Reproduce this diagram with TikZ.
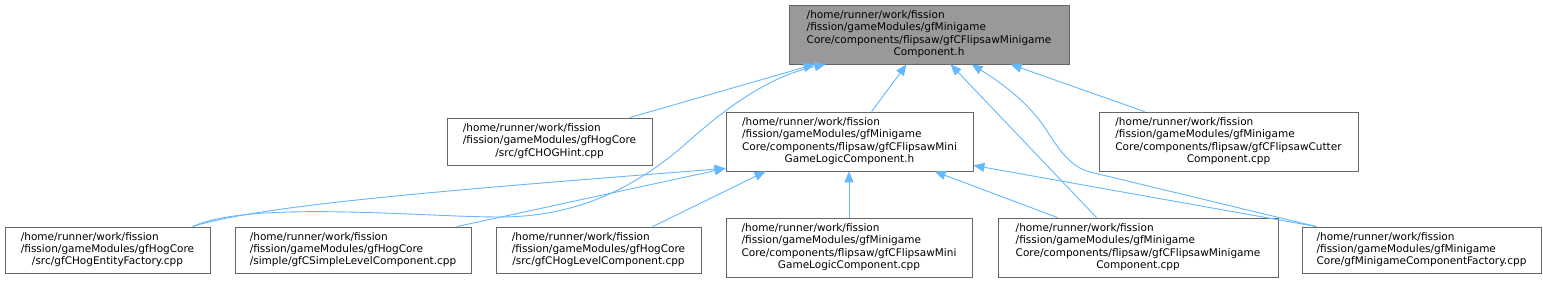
\documentclass[tikz,border=0pt]{standalone}
\usepackage{fontspec}
\setmainfont{DejaVu Sans}
\usetikzlibrary{arrows.meta}
\definecolor{edgec}{HTML}{63B8FF}
\definecolor{boxc}{HTML}{666666}
\definecolor{rootc}{HTML}{999999}
\newcommand\tlines[1]{\begin{tabular}{@{}l@{}}#1\end{tabular}}
\newcommand\lastline[1]{\multicolumn{1}{@{}c@{}}{#1}}
\begin{document}
\begin{tikzpicture}[x=1pt,y=-1pt,
  fbox/.style={draw=boxc,line width=0.8pt,inner sep=0pt,fill=white,
    font=\fontsize{10.5}{12.2}\selectfont},
  rootbox/.style={fbox,fill=rootc},
  dep/.style={draw=edgec,line width=0.9pt,-{Triangle[length=11pt,width=9pt]}}]
\useasboundingbox[fill=white] (0,0) rectangle (1543,283);

% nodes
\node[rootbox,minimum width=280pt,minimum height=59pt] (root) at (929,34.5)
  {\tlines{/home/runner/work/fission\\/fission/gameModules/gfMinigame\\Core/components/flipsaw/gfCFlipsawMinigame\\\lastline{Component.h}}};
\node[fbox,minimum width=205pt,minimum height=47pt] (hint) at (549.5,141.5)
  {\tlines{/home/runner/work/fission\\/fission/gameModules/gfHogCore\\\lastline{/src/gfCHOGHint.cpp}}};
\node[fbox,minimum width=247pt,minimum height=59pt] (logich) at (849.5,141.5)
  {\tlines{/home/runner/work/fission\\/fission/gameModules/gfMinigame\\Core/components/flipsaw/gfCFlipsawMini\\\lastline{GameLogicComponent.h}}};
\node[fbox,minimum width=259pt,minimum height=59pt] (cutter) at (1228.5,141.5)
  {\tlines{/home/runner/work/fission\\/fission/gameModules/gfMinigame\\Core/components/flipsaw/gfCFlipsawCutter\\\lastline{Component.cpp}}};
\node[fbox,minimum width=205pt,minimum height=46pt] (entity) at (107.5,250)
  {\tlines{/home/runner/work/fission\\/fission/gameModules/gfHogCore\\\lastline{/src/gfCHogEntityFactory.cpp}}};
\node[fbox,minimum width=236pt,minimum height=46pt] (simple) at (353,250)
  {\tlines{/home/runner/work/fission\\/fission/gameModules/gfHogCore\\\lastline{/simple/gfCSimpleLevelComponent.cpp}}};
\node[fbox,minimum width=205pt,minimum height=46pt] (hoglevel) at (598.5,250)
  {\tlines{/home/runner/work/fission\\/fission/gameModules/gfHogCore\\\lastline{/src/gfCHogLevelComponent.cpp}}};
\node[fbox,minimum width=246pt,minimum height=59pt] (logiccpp) at (849,247.5)
  {\tlines{/home/runner/work/fission\\/fission/gameModules/gfMinigame\\Core/components/flipsaw/gfCFlipsawMini\\\lastline{GameLogicComponent.cpp}}};
\node[fbox,minimum width=280pt,minimum height=59pt] (fmccpp) at (1138,247.5)
  {\tlines{/home/runner/work/fission\\/fission/gameModules/gfMinigame\\Core/components/flipsaw/gfCFlipsawMinigame\\\lastline{Component.cpp}}};
\node[fbox,minimum width=239pt,minimum height=46pt] (factory) at (1421.5,250)
  {\tlines{/home/runner/work/fission\\/fission/gameModules/gfMinigame\\\lastline{Core/gfMinigameComponentFactory.cpp}}};

% edges to root
\draw[dep] ([xshift=183pt]hint.north west) -- ([xshift=26pt]root.south west);
\draw[dep] ([xshift=188pt]entity.north west) .. controls (250,200) and (420,217) .. (500,217)
  .. controls (580,217) and (640,185) .. (690,140)
  .. controls (735,100) and (775,75) .. ([xshift=37pt]root.south west);
\draw[dep] ([xshift=146pt]logich.north west) -- ([xshift=118pt]root.south west);
\draw[dep] ([xshift=99pt]fmccpp.north west) -- ([xshift=162pt]root.south west);
\draw[dep] ([xshift=15pt]factory.north west) -- (1090,172)
  .. controls (1070,167) and (1058,148) .. (1045,128)
  .. controls (1030,105) and (1005,85) .. ([xshift=183pt]root.south west);
\draw[dep] ([xshift=46pt]cutter.north west) -- ([xshift=222pt]root.south west);

% edges to logic.h
\draw[dep] ([xshift=188pt]entity.north west) .. controls (260,205) and (450,190) .. ([yshift=3pt]logich.south west);
\draw[dep] ([xshift=222pt]simple.north west) -- ([yshift=3pt]logich.south west);
\draw[dep] ([xshift=157pt]hoglevel.north west) -- ([xshift=40pt]logich.south west);
\draw[dep] (logiccpp.north) -- (logiccpp.north |- logich.south);
\draw[dep] ([xshift=60pt]fmccpp.north west) -- ([xshift=209pt]logich.south west);
\draw[dep] ([xshift=15pt]factory.north west) -- ([yshift=6pt]logich.south east);
\end{tikzpicture}
\end{document}
